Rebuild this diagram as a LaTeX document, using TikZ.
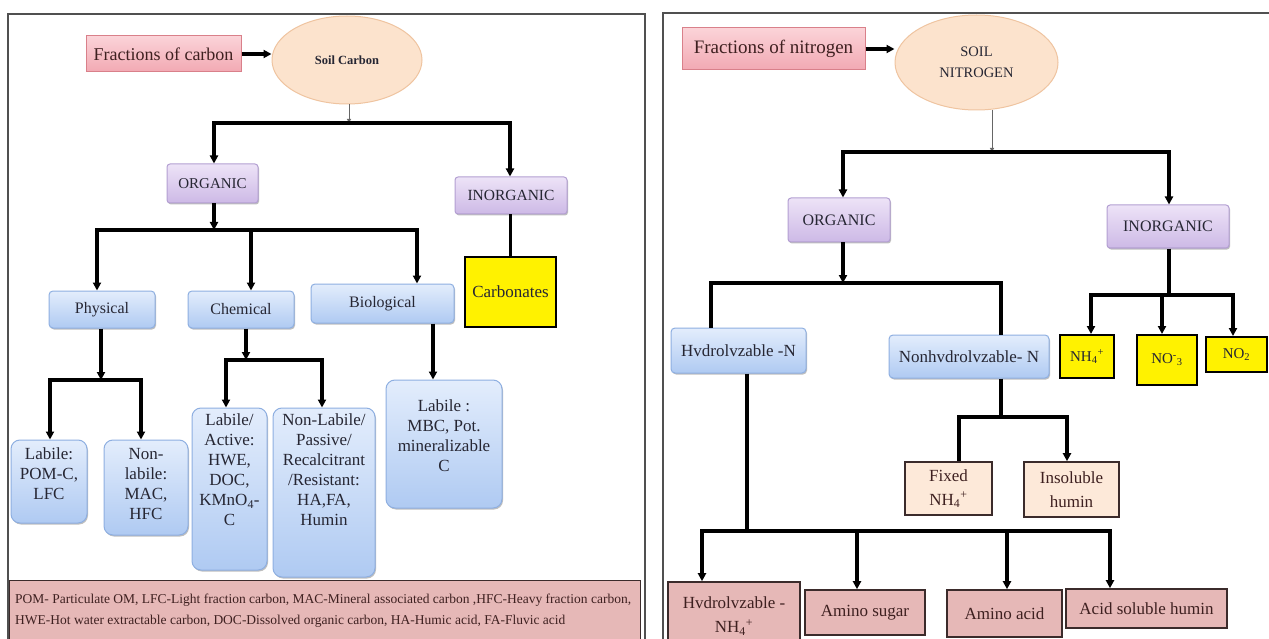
\documentclass[tikz,border=0pt]{standalone}
\usepackage{fontspec}
\setmainfont{Liberation Serif}
\usetikzlibrary{arrows.meta,shapes.geometric,shadows}
\definecolor{framegray}{HTML}{505050}
\definecolor{headtop}{HTML}{FBD3D8}
\definecolor{headbot}{HTML}{F2A9B3}
\definecolor{headline}{HTML}{D9808A}
\definecolor{ellfill}{HTML}{FCE3CD}
\definecolor{ellline}{HTML}{EFC4A0}
\definecolor{purtop}{HTML}{EDE3F7}
\definecolor{purbot}{HTML}{CDB9E6}
\definecolor{purline}{HTML}{B39FD2}
\definecolor{blutop}{HTML}{E3EDFC}
\definecolor{blubot}{HTML}{AFCAF2}
\definecolor{bluline}{HTML}{8EAFE1}
\definecolor{pinkfill}{HTML}{E6B8B7}
\definecolor{pinkline}{HTML}{3B2B2B}
\definecolor{peachfill}{HTML}{FDE9D9}
\definecolor{txtdark}{HTML}{262633}
\definecolor{txtbrown}{HTML}{3E2020}
\tikzset{
  panelframe/.style={draw=framegray, line width=1.4pt},
  conn/.style={draw=black, line width=3.2pt, line join=miter},
  tipa/.tip={Triangle[length=8pt,width=8pt]},
  arr/.style={conn, -tipa},
  twoarr/.style={conn, tipa-tipa},
  fineline/.style={draw=gray!80!black, line width=1pt, -{Triangle[length=4pt,width=4pt]}},
  headbox/.style={draw=headline, line width=1pt, top color=headtop, bottom color=headbot,
     inner sep=0pt, text=txtbrown},
  ellbox/.style={ellipse, draw=ellline, line width=1pt, fill=ellfill, inner sep=0pt, text=txtdark, align=center},
  purbox/.style={draw=purline, line width=1pt, rounded corners=3pt, top color=purtop, bottom color=purbot,
     inner sep=0pt, text=txtdark, general shadow={fill=black!25, shadow xshift=1pt, shadow yshift=-1.5pt}},
  blubox/.style={draw=bluline, line width=1pt, rounded corners=4pt, top color=blutop, bottom color=blubot,
     inner sep=0pt, text=txtdark, align=center, general shadow={fill=black!25, shadow xshift=1pt, shadow yshift=-1.5pt}},
  labbox/.style={blubox, rounded corners=9pt},
  labtext/.style={anchor=north, align=center, text=txtdark, font=\fontsize{17}{20}\selectfont},
  yelbox/.style={draw=black, line width=2pt, fill=yellow, inner sep=0pt, text=txtdark, align=center},
  pinkbox/.style={draw=pinkline, line width=1.6pt, fill=pinkfill, inner sep=0pt, text=txtbrown, align=center,
     font=\fontsize{17}{24}\selectfont},
  peachbox/.style={draw=pinkline, line width=1.6pt, fill=peachfill, inner sep=0pt, text=txtbrown, align=center,
     font=\fontsize{17}{24}\selectfont},
}
\begin{document}
\begin{tikzpicture}[x=1pt,y=-1pt]
\useasboundingbox (0,0) rectangle (1269,639);
\clip (0,0) rectangle (1269,639);
\fill[white] (0,0) rectangle (1269,639);

% ================= LEFT PANEL (carbon) =================
\draw[panelframe] (8,14) rectangle (645,660);

\node[headbox, minimum width=155pt, minimum height=36pt, font=\fontsize{18}{20}\selectfont] (fracC) at (163.5,54) {Fractions of carbon};
\node[ellbox, minimum width=150pt, minimum height=88pt, font=\fontsize{12.5}{14}\selectfont\bfseries] (soilC) at (347,60) {Soil Carbon};

\node[purbox, minimum width=91pt, minimum height=39pt, font=\fontsize{15}{18}\selectfont] (orgC) at (212.5,183.5) {ORGANIC};
\node[purbox, minimum width=112pt, minimum height=37pt, font=\fontsize{15.5}{18}\selectfont] (inorgC) at (511,195.5) {INORGANIC};

\node[blubox, minimum width=106pt, minimum height=37pt, font=\fontsize{16}{18}\selectfont] (physC) at (102,309.5) {Physical};
\node[blubox, minimum width=106pt, minimum height=37pt, font=\fontsize{16}{18}\selectfont] (chemC) at (241,309.5) {Chemical};
\node[blubox, minimum width=143pt, minimum height=39pt, font=\fontsize{16}{18}\selectfont] (bioC) at (382.5,303.5) {Biological};
\node[yelbox, minimum width=91pt, minimum height=70pt, font=\fontsize{17}{20}\selectfont] (carbC) at (510.5,292) {Carbonates};

\node[labbox, minimum width=76pt, minimum height=83pt,
  label={[labtext, yshift=-5pt]north:{Labile:\\POM-C,\\LFC}}] (lab1) at (49,481.5) {};
\node[labbox, minimum width=84pt, minimum height=95pt,
  label={[labtext, yshift=-5pt]north:{Non-\\labile:\\MAC,\\HFC}}] (lab2) at (146,487.5) {};
\node[labbox, minimum width=75pt, minimum height=162pt,
  label={[labtext, yshift=-3pt]north:{Labile/\\Active:\\HWE,\\DOC,\\KMnO\textsubscript{4}-\\C}}] (lab3) at (229.5,489) {};
\node[labbox, minimum width=102pt, minimum height=169pt,
  label={[labtext, yshift=-3pt]north:{Non-Labile/\\Passive/\\Recalcitrant\\/Resistant:\\HA,FA,\\Humin}}] (lab4) at (324,492.5) {};
\node[labbox, minimum width=116pt, minimum height=128pt,
  label={[labtext, yshift=-17pt]north:{Labile :\\MBC, Pot.\\mineralizable\\C}}] (lab5) at (444,444) {};

\node[draw=pinkline, line width=1.2pt, fill=pinkfill, minimum width=631pt, minimum height=80pt, anchor=north west, inner sep=0pt] (foot) at (9,580) {};
\node[anchor=north west, align=left, inner sep=0pt, text=txtbrown, font=\fontsize{13.5}{21}\selectfont] (foottxt) at (15,594)
  {POM- Particulate OM, LFC-Light fraction carbon, MAC-Mineral associated carbon ,HFC-Heavy fraction carbon,\\
   HWE-Hot water extractable carbon, DOC-Dissolved organic carbon, HA-Humic acid, FA-Fluvic acid};

% junction coordinates (left)
\coordinate (jC) at (349,123);
\coordinate (jCL) at (214,123);
\coordinate (jCR) at (510,123);
\coordinate (jO) at (214,230);
\coordinate (jOL) at (97,230);
\coordinate (jOM) at (251,230);
\coordinate (jOR) at (417,230);
\coordinate (jP) at (101,380);
\coordinate (jPL) at (50,380);
\coordinate (jPR) at (141,380);
\coordinate (jCh) at (246,360);
\coordinate (jChL) at (226,360);
\coordinate (jChR) at (322,360);
\coordinate (jB) at (433,350);

\draw[arr] (fracC.east) -- (fracC.east -| soilC.west);
\draw[fineline] (soilC.south -| jC) -- (jC);
\draw[twoarr] (orgC.north -| jCL) -- (jCL) -- (jCR) -- (inorgC.north -| jCR);
\draw[arr] (orgC.south -| jO) -- (jO);
\draw[twoarr] (physC.north -| jOL) -- (jOL) -- (jOR) -- (bioC.north -| jOR);
\draw[arr] (jOM) -- (chemC.north -| jOM);
\draw[conn] (carbC.north |- inorgC.south) -- (carbC.north);
\draw[arr] (physC.south -| jP) -- (jP);
\draw[twoarr] (lab1.north -| jPL) -- (jPL) -- (jPR) -- (lab2.north -| jPR);
\draw[arr] (chemC.south -| jCh) -- (jCh);
\draw[twoarr] (lab3.north -| jChL) -- (jChL) -- (jChR) -- (lab4.north -| jChR);
\draw[arr] (bioC.south -| jB) -- (lab5.north -| jB);

% ================= RIGHT PANEL (nitrogen) =================
\draw[panelframe] (663,13) rectangle (1290,660);

\node[headbox, minimum width=183pt, minimum height=42pt, font=\fontsize{19}{21}\selectfont] (fracN) at (773.5,49) {Fractions of nitrogen};
\node[ellbox, minimum width=163pt, minimum height=95pt, font=\fontsize{14.5}{21}\selectfont] (soilN) at (976.5,62.5) {SOIL\\NITROGEN};

\node[purbox, minimum width=102pt, minimum height=44pt, font=\fontsize{16}{18}\selectfont] (orgN) at (839,220) {ORGANIC};
\node[purbox, minimum width=122pt, minimum height=43pt, font=\fontsize{16}{18}\selectfont] (inorgN) at (1168,226.5) {INORGANIC};

\node[blubox, minimum width=135pt, minimum height=45pt, font=\fontsize{17}{20}\selectfont] (hydN) at (738.5,350.5) {Hvdrolvzable -N};
\node[blubox, minimum width=160pt, minimum height=43pt, font=\fontsize{17}{20}\selectfont] (nonhydN) at (969,356.5) {Nonhvdrolvzable- N};

\node[yelbox, minimum width=54pt, minimum height=43pt, font=\fontsize{15}{18}\selectfont] (nh4) at (1087,356.5) {NH\textsubscript{4}\textsuperscript{+}};
\node[yelbox, minimum width=60pt, minimum height=50pt, font=\fontsize{15}{18}\selectfont] (no3) at (1167,360) {NO\textsuperscript{-}\textsubscript{3}};
\node[yelbox, minimum width=61pt, minimum height=35pt, font=\fontsize{15}{18}\selectfont] (no2) at (1236.5,354.5) {NO\textsubscript{2}};

\node[peachbox, minimum width=87pt, minimum height=53pt] (fixed) at (948.5,488.5) {Fixed\\NH\textsubscript{4}\textsuperscript{+}};
\node[peachbox, minimum width=95pt, minimum height=55pt] (insol) at (1071.5,489.5) {Insoluble\\humin};

\node[pinkbox, minimum width=132pt, minimum height=68pt] (hydnh4) at (734,616) {Hvdrolvzable -\\NH\textsubscript{4}\textsuperscript{+}};
\node[pinkbox, minimum width=120pt, minimum height=45pt] (aminoS) at (865,612.5) {Amino sugar};
\node[pinkbox, minimum width=115pt, minimum height=47pt] (aminoA) at (1004.5,613.5) {Amino acid};
\node[pinkbox, minimum width=161pt, minimum height=39pt] (acidS) at (1146.5,608.5) {Acid soluble humin};

% junction coordinates (right)
\coordinate (jN) at (992,152);
\coordinate (jNL) at (843,152);
\coordinate (jNR) at (1169,152);
\coordinate (jON) at (843,283);
\coordinate (jONL) at (711,283);
\coordinate (jONR) at (1001,283);
\coordinate (jI) at (1169,295);
\coordinate (jIL) at (1091,295);
\coordinate (jIM) at (1162,295);
\coordinate (jIR) at (1233,295);
\coordinate (jNH) at (1001,417);
\coordinate (jNHL) at (959,417);
\coordinate (jNHR) at (1067,417);
\coordinate (jH) at (747,531);
\coordinate (jHL) at (702,531);
\coordinate (jH2) at (857,531);
\coordinate (jH3) at (1007,531);
\coordinate (jHR) at (1110,531);

\draw[arr] (fracN.east) -- (fracN.east -| soilN.west);
\draw[fineline] (soilN.south -| jN) -- (jN);
\draw[twoarr] (orgN.north -| jNL) -- (jNL) -- (jNR) -- (inorgN.north -| jNR);
\draw[arr] (orgN.south -| jON) -- (jON);
\draw[conn] (hydN.north -| jONL) -- (jONL) -- (jONR) -- (nonhydN.north -| jONR);
\draw[conn] (inorgN.south -| jI) -- (jI);
\draw[twoarr] (nh4.north -| jIL) -- (jIL) -- (jIR) -- (no2.north -| jIR);
\draw[arr] (jIM) -- (no3.north -| jIM);
\draw[conn] (nonhydN.south -| jNH) -- (jNH);
\draw[conn, -tipa] (fixed.north -| jNHL) -- (jNHL) -- (jNHR) -- (insol.north -| jNHR);
\draw[conn] (hydN.south -| jH) -- (jH);
\draw[twoarr] (hydnh4.north -| jHL) -- (jHL) -- (jHR) -- (acidS.north -| jHR);
\draw[arr] (jH2) -- (aminoS.north -| jH2);
\draw[arr] (jH3) -- (aminoA.north -| jH3);
\end{tikzpicture}
\end{document}
